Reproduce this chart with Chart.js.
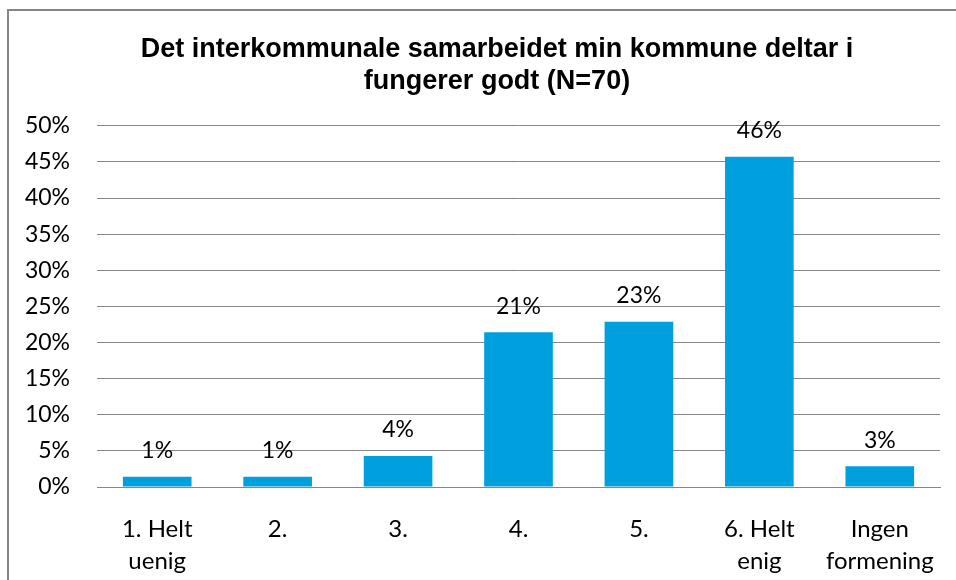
<!DOCTYPE html>
<html>
<head>
<meta charset="utf-8">
<script src="https://cdn.jsdelivr.net/npm/chart.js@4/dist/chart.umd.min.js"></script>
<style>
  html, body { margin: 0; padding: 0; background: #fff; }
  #wrap { position: relative; width: 956px; height: 580px; overflow: hidden; }
  #frame { position: absolute; left: 7px; top: 9px; width: 960px; height: 600px;
           border-left: 2px solid #868686; border-top: 2px solid #868686; box-sizing: border-box; }
  canvas { position: absolute; left: 0; top: 0; }
</style>
</head>
<body>
<div id="wrap">
  <div id="frame"></div>
  <canvas id="c" width="956" height="580"></canvas>
</div>
<script>
const titleLines = ['Det interkommunale samarbeidet min kommune deltar i', 'fungerer godt (N=70)'];
const categories = [['1. Helt', 'uenig'], '2.', '3.', '4.', '5.', ['6. Helt', 'enig'], ['Ingen', 'formening']];
const values = [1.43, 1.43, 4.29, 21.43, 22.86, 45.71, 2.86];
const yTicksMax = 50;
const yTicksStep = 5;

const labelFont = '"Lato", "Open Sans", sans-serif';

const dataLabels = {
  id: 'dataLabels',
  afterDatasetsDraw(chart) {
    const ctx = chart.ctx;
    const meta = chart.getDatasetMeta(0);
    ctx.save();
    ctx.font = '23px ' + labelFont;
    ctx.fillStyle = '#000';
    ctx.textAlign = 'center';
    ctx.textBaseline = 'middle';
    meta.data.forEach((bar, i) => {
      ctx.fillText(Math.round(values[i]) + '%', bar.x, bar.y - 26);
    });
    ctx.restore();
  }
};

// the original title is centred on a frame that runs past the right edge
const shiftTitle = {
  id: 'shiftTitle',
  afterLayout(chart) {
    const t = chart.titleBlock;
    if (t) { t.left = 54; }
  }
};

new Chart(document.getElementById('c'), {
  type: 'bar',
  data: {
    labels: categories,
    datasets: [{
      data: values,
      backgroundColor: '#00A0DF',
      borderWidth: 0,
      barPercentage: 0.57,
      categoryPercentage: 1.0
    }]
  },
  options: {
    responsive: false,
    animation: false,
    devicePixelRatio: 1,
    layout: { padding: { left: 0, right: 16, top: 0, bottom: 0 } },
    plugins: {
      legend: { display: false },
      tooltip: { enabled: false },
      title: {
        display: true,
        text: titleLines,
        color: '#000',
        font: { family: '"Liberation Sans", Arial, sans-serif', size: 27, weight: 'bold', lineHeight: 1.2 },
        padding: { top: 33, bottom: 28 }
      }
    },
    scales: {
      y: {
        min: 0,
        max: yTicksMax,
        afterFit(scale) { scale.width = 97; },
        ticks: {
          stepSize: yTicksStep,
          color: '#000',
          padding: 27,
          font: { family: labelFont, size: 23 },
          callback: v => v + '%'
        },
        grid: { color: '#868686', lineWidth: 1, drawTicks: false },
        border: { display: false }
      },
      x: {
        afterFit(scale) { scale.height = 93; },
        ticks: {
          color: '#000',
          padding: 18,
          maxRotation: 0,
          autoSkip: false,
          font: { family: labelFont, size: 24, lineHeight: 1.33 }
        },
        grid: { display: false },
        border: { display: true, color: '#868686', width: 1 }
      }
    }
  },
  plugins: [dataLabels, shiftTitle]
});
</script>
</body>
</html>
